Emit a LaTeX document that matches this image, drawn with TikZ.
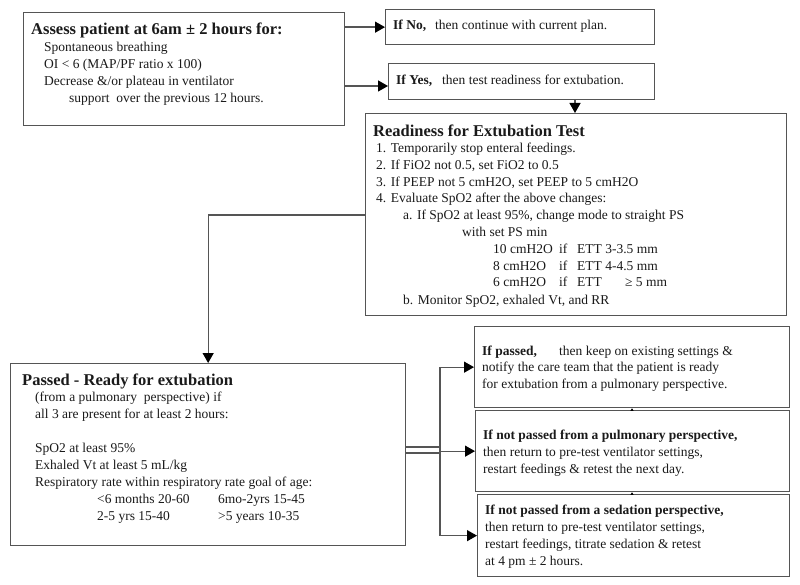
\documentclass[tikz,border=0pt]{standalone}
\usepackage{fontspec}
\setmainfont{Liberation Serif}
\usetikzlibrary{arrows.meta}
\definecolor{linec}{HTML}{555555}
\definecolor{txtc}{HTML}{1A1A1A}
\newcommand{\bodyfnt}{\fontsize{13.5}{17}\selectfont}
\newcommand{\headfnt}{\fontsize{16.5}{18}\selectfont\bfseries}
\begin{document}
\begin{tikzpicture}[x=1pt,y=-1pt,
  box/.style={draw=linec, line width=1.3pt, anchor=north west, inner sep=0pt},
  txt/.style={anchor=base west, inner sep=0pt, text=txtc, font=\bodyfnt},
  bld/.style={txt, font=\bodyfnt\bfseries},
  head/.style={txt, font=\headfnt},
  conn/.style={draw=linec, line width=1.3pt},
  arr/.style={conn, -{Triangle[length=10pt,width=11pt,color=black]}},
  tinyarr/.style={draw=linec, line width=0.6pt, -{Triangle[length=2.5pt,width=3pt,color=black]}}]
\useasboundingbox (0,0) rectangle (800,585);
\fill[white] (0,0) rectangle (800,585);

% boxes
\node[box, minimum width=321pt, minimum height=113pt] (assess) at (23,12) {};
\node[box, minimum width=269pt, minimum height=35pt] (ifno) at (385,9) {};
\node[box, minimum width=266pt, minimum height=36pt] (ifyes) at (388,63) {};
\node[box, minimum width=421pt, minimum height=202pt] (ready) at (365,113) {};
\node[box, minimum width=395pt, minimum height=182pt] (passed) at (10,363) {};
\node[box, minimum width=315pt, minimum height=81pt] (ifpassed) at (474,326) {};
\node[box, minimum width=314pt, minimum height=81pt] (pulm) at (475,410) {};
\node[box, minimum width=312pt, minimum height=82pt] (sedat) at (477,494) {};

% assess text
\node[head] (a0) at (31,35) {Assess patient at 6am ± 2 hours for:};
\node[txt] (a1) at (44,52) {Spontaneous breathing};
\node[txt] (a2) at (44,69) {OI < 6 (MAP/PF ratio x 100)};
\node[txt] (a3) at (44,86) {Decrease \&/or plateau in ventilator};
\node[txt] (a4) at (69,103) {support\ \ over the previous 12 hours.};

% if no / if yes
\node[bld] (n0) at (393,30) {If No,};
\node[txt] (n1) at (435,30) {then continue with current plan.};
\node[bld] (y0) at (396,85) {If Yes,};
\node[txt] (y1) at (442,85) {then test readiness for extubation.};

% readiness text
\node[head] (r0) at (373,137) {Readiness for Extubation Test};
\node[txt] (r1) at (376,153) {1. Temporarily stop enteral feedings.};
\node[txt] (r2) at (376,170) {2. If FiO2 not 0.5, set FiO2 to 0.5};
\node[txt] (r3) at (376,187) {3. If PEEP not 5 cmH2O, set PEEP to 5 cmH2O};
\node[txt] (r4) at (376,203) {4. Evaluate SpO2 after the above changes:};
\node[txt] (r5) at (403,220) {a. If SpO2 at least 95\%, change mode to straight PS};
\node[txt] (r6) at (462,237) {with set PS min};
\node[txt] (r7a) at (493,254) {10 cmH2O};
\node[txt] (r7b) at (559,254) {if};
\node[txt] (r7c) at (577,254) {ETT 3-3.5 mm};
\node[txt] (r8a) at (493,270) {8 cmH2O};
\node[txt] (r8b) at (559,270) {if};
\node[txt] (r8c) at (577,270) {ETT 4-4.5 mm};
\node[txt] (r9a) at (493,287) {6 cmH2O};
\node[txt] (r9b) at (559,287) {if};
\node[txt] (r9c) at (577,287) {ETT};
\node[txt] (r9d) at (625,287) {≥ 5 mm};
\node[txt] (r10) at (403,304) {b. Monitor SpO2, exhaled Vt, and RR};

% passed text
\node[head] (p0) at (22,385) {Passed - Ready for extubation};
\node[txt] (p1) at (35,401) {(from a pulmonary\ \ perspective) if};
\node[txt] (p2) at (35,418) {all 3 are present for at least 2 hours:};
\node[txt] (p3) at (35,452) {SpO2 at least 95\%};
\node[txt] (p4) at (35,469) {Exhaled Vt at least 5 mL/kg};
\node[txt] (p5) at (35,486) {Respiratory rate within respiratory rate goal of age:};
\node[txt] (p6a) at (97,503) {<6 months 20-60};
\node[txt] (p6b) at (218,503) {6mo-2yrs 15-45};
\node[txt] (p7a) at (97,520) {2-5 yrs 15-40};
\node[txt] (p7b) at (218,520) {>5 years 10-35};

% right boxes text
\node[bld] (s0) at (482,355) {If passed,};
\node[txt] (s1) at (559,355) {then keep on existing settings \&};
\node[txt] (s2) at (482,371) {notify the care team that the patient is ready};
\node[txt] (s3) at (482,388) {for extubation from a pulmonary perspective.};

\node[bld] (q0) at (483,439) {If not passed from a pulmonary perspective,};
\node[txt] (q1) at (483,456) {then return to pre-test ventilator settings,};
\node[txt] (q2) at (483,473) {restart feedings \& retest the next day.};

\node[bld] (t0) at (485,514) {If not passed from a sedation perspective,};
\node[txt] (t1) at (485,531) {then return to pre-test ventilator settings,};
\node[txt] (t2) at (485,548) {restart feedings, titrate sedation \& retest};
\node[txt] (t3) at (485,565) {at 4 pm ± 2 hours.};

% connectors
\draw[arr] (assess.east |- ifno.west) -- (ifno.west);
\coordinate (yy) at (0,86);
\draw[arr] (assess.east |- yy) -- (ifyes.west |- yy);
\coordinate (yx) at (575,0);
\draw[arr] (ifyes.south -| yx) -- (ready.north -| yx);
\coordinate (ry) at (0,215);
\draw[arr] (ready.west |- ry) -| (passed.north);
\coordinate (br) at (440,450);
\draw[conn, double=white, double distance=4.5pt] (passed.east |- br) -- (br);
\draw[conn] (br |- ifpassed.west) -- (br |- sedat.west);
\draw[arr] (br |- ifpassed.west) -- (ifpassed.west);
\draw[arr] (br |- pulm.west) -- (pulm.west);
\draw[arr] (br |- sedat.west) -- (sedat.west);
\coordinate (sx) at (632,0);
\draw[tinyarr] (pulm.north -| sx) -- (ifpassed.south -| sx);
\draw[tinyarr] (sedat.north -| sx) -- (pulm.south -| sx);
\end{tikzpicture}
\end{document}
